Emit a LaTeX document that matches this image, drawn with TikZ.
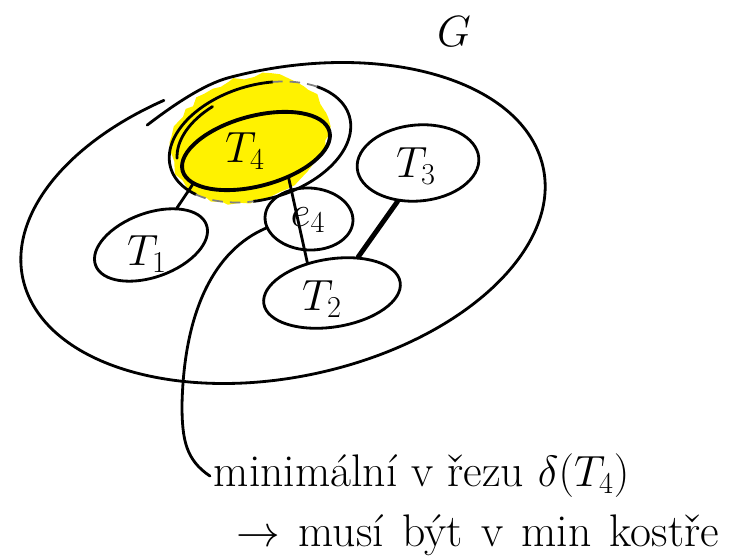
\documentclass[tikz,border=0pt]{standalone}
\usepackage{tikz}
\usetikzlibrary{shapes.geometric, decorations.pathmorphing}
\definecolor{marker}{RGB}{255,242,0}
\tikzset{
  set/.style={ellipse, draw, line width=1.6pt, inner sep=0pt},
  setlabel/.style={font=\fontsize{24}{28}\selectfont, inner sep=0pt},
  pen/.style={line width=1.6pt, line cap=round},
  cutdash/.style={line width=1pt, gray, dash pattern=on 6pt off 4pt},
  note/.style={anchor=base west, inner sep=2pt}
}
\begin{document}
\begin{tikzpicture}
  \useasboundingbox (0,0) rectangle (14.86,11.14);

  % highlight of T_4
  \fill[marker, rotate around={20:(5.0,8.36)}, decorate,
    decoration={random steps, segment length=5pt, amplitude=1.5pt}]
    (5.0,8.36) ellipse [x radius=1.6, y radius=1.22];

  % graph G
  \begin{scope}[shift={(5.66,6.68)}, rotate=12]
    \draw[pen] (-2.25,2.48) .. controls (-1.62,2.78) and (-0.96,3.04) .. (95:5.32 and 3.08)
      arc[start angle=95, end angle=-250, x radius=5.32, y radius=3.08];
  \end{scope}
  \node[font=\fontsize{36}{40}\selectfont] (G) at (9.08,10.5) {$G$};

  % cut around T_4
  \begin{scope}[shift={(5.2,8.3)}, rotate=16]
    \draw[pen] (72:1.86 and 1.14) arc[start angle=72, end angle=215, x radius=1.86, y radius=1.14];
    \draw[pen] (256:1.86 and 1.14) arc[start angle=256, end angle=401, x radius=1.86, y radius=1.14];
    \draw[cutdash] (215:1.86 and 1.14) arc[start angle=215, end angle=256, x radius=1.86, y radius=1.14];
    \draw[cutdash] (41:1.86 and 1.14) arc[start angle=41, end angle=72, x radius=1.86, y radius=1.14];
    \draw[pen] (115:1.7 and 1.04) arc[start angle=115, end angle=172, x radius=1.7, y radius=1.04];
  \end{scope}

  % components
  \node[set, line width=2.2pt, minimum width=3.04cm, minimum height=1.4cm, rotate=15] (T4) at (5.12,8.12) {};
  \node[set, minimum width=2.36cm, minimum height=1.28cm, rotate=20] (T1) at (3.02,6.24) {};
  \node[set, minimum width=2.76cm, minimum height=1.36cm, rotate=9] (T2) at (6.64,5.28) {};
  \node[set, minimum width=2.44cm, minimum height=1.52cm, rotate=5] (T3) at (8.36,7.88) {};
  \node[set, minimum width=1.76cm, minimum height=1.24cm, rotate=-3] (e4) at (6.18,6.76) {};

  \node[setlabel] (T4lbl) at (4.9,8.12) {$T_4$};
  \node[setlabel] (T1lbl) at (2.94,6.06) {$T_1$};
  \node[setlabel] (T2lbl) at (6.44,5.16) {$T_2$};
  \node[setlabel] (T3lbl) at (8.32,7.82) {$T_3$};
  \node[setlabel] (e4lbl) at (6.16,6.74) {$e_4$};

  % edges
  \draw[pen] (T4.193) -- (T1.35);
  \draw[pen] (T4.305) -- (T2.120);
  \draw[pen, line width=2.8pt] (T3.237) -- (T2.45);

  % note
  \node[note, font=\fontsize{26}{30}\selectfont] (msg1) at (4.2,1.40) {minimální v řezu $\delta(T_4)$};
  \node[note, font=\fontsize{26}{30}\selectfont] (msg2) at (4.66,0.2)
    {\spaceskip=0.4em $\rightarrow$ musí být v min kostře};

  \draw[pen] (e4.195) .. controls (4.3,6.14) and (3.68,4.94) .. (3.64,3.04)
    .. controls (3.64,2.34) and (3.72,1.94) .. (msg1.west);
\end{tikzpicture}
\end{document}
